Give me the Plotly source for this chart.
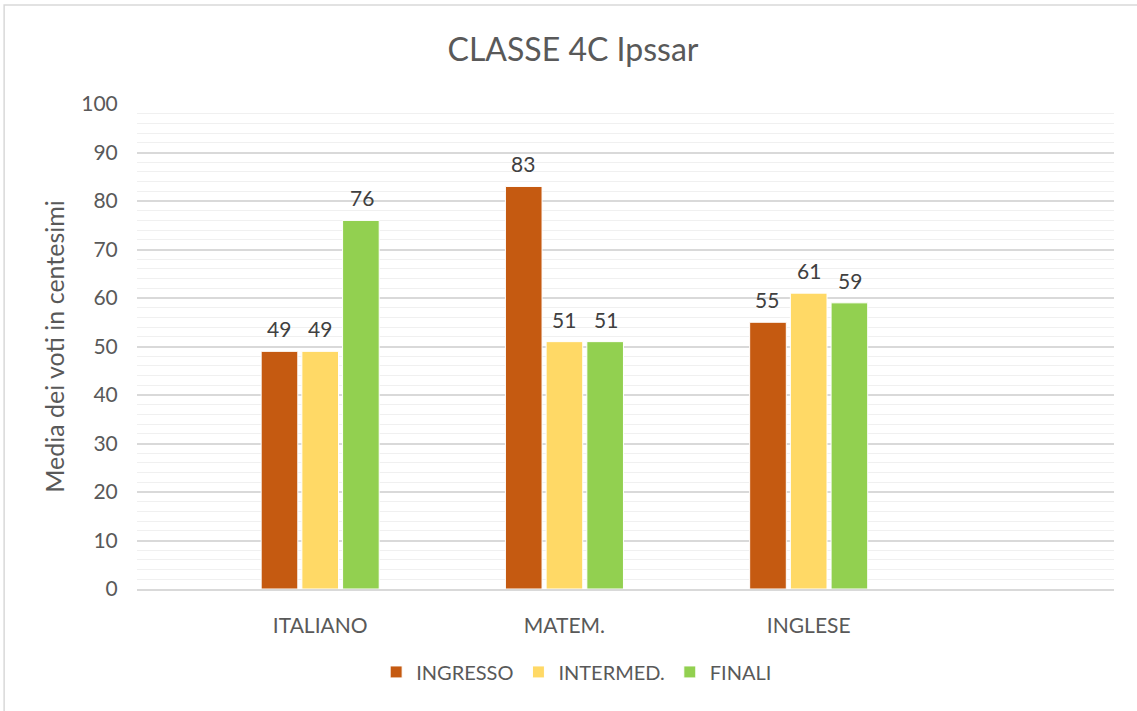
import plotly.graph_objects as go

# Class averages (out of 100) per subject and assessment period
subjects = ["ITALIANO", "MATEM.", "INGLESE"]
ingresso = [49, 83, 55]
intermed = [49, 51, 61]
finali = [76, 51, 59]

series_names = ["INGRESSO", "INTERMED.", "FINALI"]
series_colors = ["#C55A11", "#FFD966", "#92D050"]
series_values = [ingresso, intermed, finali]

FONT = "Lato, 'Open Sans', sans-serif"
TEXT = "#595959"

fig = go.Figure()
for name, color, vals in zip(series_names, series_colors, series_values):
    fig.add_trace(go.Bar(
        name=name, x=subjects, y=vals,
        marker=dict(color=color, line=dict(color="white", width=1)),
    ))

# Value labels above each bar
slot_px = 41.5
for i, vals in enumerate(series_values):
    for subj, v in zip(subjects, vals):
        fig.add_annotation(
            x=subj, y=v, text=str(v), showarrow=False,
            xshift=(i - 1) * slot_px, yanchor="bottom", yshift=8,
            font=dict(family=FONT, size=21, color="#404040"),
        )

# Outer chart frame
fig.add_shape(type="rect", xref="paper", yref="paper",
              x0=-0.136, x1=1.06, y0=-0.27, y1=1.204,
              line=dict(color="#D9D9D9", width=1.5), layer="below")

fig.update_layout(
    width=1137, height=711,
    margin=dict(l=137, r=23, t=104, b=122),
    paper_bgcolor="white", plot_bgcolor="white",
    barmode="group", bargap=0.5, bargroupgap=0.1,
    title=dict(text="CLASSE 4C Ipssar", x=573 / 1137, xref="container", xanchor="center",
               y=1 - 50 / 711, yanchor="middle",
               font=dict(family=FONT, size=32, color=TEXT)),
    font=dict(family=FONT, color=TEXT),
    legend=dict(orientation="h", x=0.45, xanchor="center", y=-0.171, yanchor="middle",
                font=dict(family=FONT, size=20, color=TEXT),
                itemwidth=30, tracegroupgap=0),
    xaxis=dict(range=[-0.75, 3.25], showgrid=False, zeroline=False,
               showline=True, linecolor="#D9D9D9", linewidth=1.5,
               ticks="outside", ticklen=17, tickcolor="rgba(0,0,0,0)",
               tickfont=dict(family=FONT, size=21, color=TEXT)),
    yaxis=dict(range=[0, 100], dtick=10, tick0=0, showgrid=True,
               gridcolor="#D9D9D9", gridwidth=2, zeroline=False,
               minor=dict(dtick=2, showgrid=True, gridcolor="#F0F0F0", gridwidth=1),
               ticks="outside", ticklen=14, tickcolor="rgba(0,0,0,0)",
               tickfont=dict(family=FONT, size=21, color=TEXT),
               title=dict(text="Media dei voti in centesimi", standoff=9,
                          font=dict(family=FONT, size=25, color=TEXT))),
)

fig.write_html("out.html")
